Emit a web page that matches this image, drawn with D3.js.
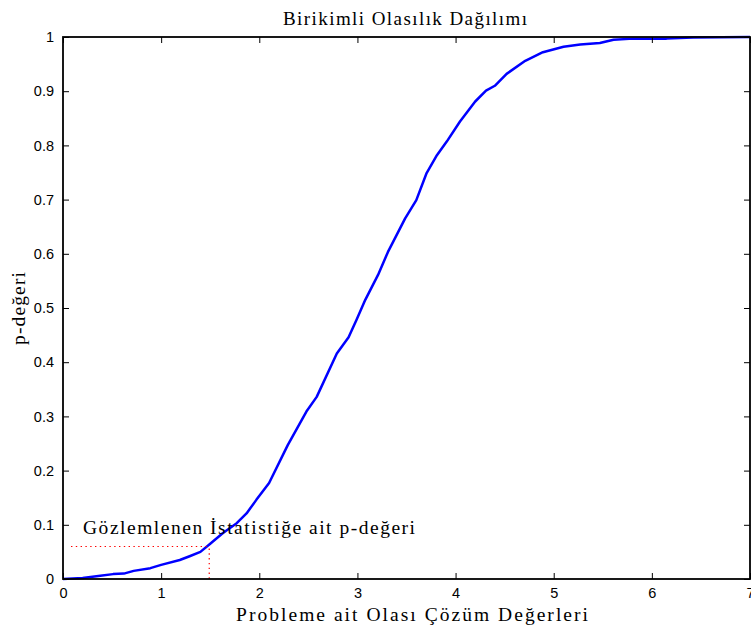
<!DOCTYPE html>
<html>
<head>
<meta charset="utf-8">
<script src="https://cdn.jsdelivr.net/npm/d3@7"></script>
<style>
  html, body { margin: 0; padding: 0; background: #fff; }
  svg { display: block; }
</style>
</head>
<body>
<svg id="chart" width="751" height="631"></svg>
<script>
// Empirical cumulative distribution of candidate solution values
const xValues = [0, 0.2, 0.38, 0.51, 0.62, 0.72, 0.89, 1.0, 1.19, 1.29, 1.40, 1.50, 1.63, 1.77, 1.87, 1.97,
  2.10, 2.29, 2.48, 2.585, 2.79, 2.91, 2.99, 3.08, 3.21, 3.31, 3.485, 3.60, 3.705, 3.81, 3.91, 4.045,
  4.20, 4.31, 4.40, 4.52, 4.71, 4.89, 5.10, 5.27, 5.47, 5.61, 5.81, 6.15, 6.42, 7.0];
const pValues = [0, 0.002, 0.006, 0.009, 0.010, 0.015, 0.020, 0.026, 0.035, 0.042, 0.050, 0.065, 0.085, 0.103, 0.121, 0.146,
  0.177, 0.247, 0.309, 0.336, 0.416, 0.446, 0.478, 0.515, 0.561, 0.603, 0.665, 0.699, 0.749, 0.782, 0.807, 0.844,
  0.881, 0.901, 0.910, 0.932, 0.956, 0.972, 0.982, 0.986, 0.989, 0.995, 0.997, 0.997, 0.999, 1.0];

// Observed statistic and its p-value
const observedX = [1.49];
const observedP = [0.06];

const xTicks = [0, 1, 2, 3, 4, 5, 6, 7];
const yTicks = [0, 0.1, 0.2, 0.3, 0.4, 0.5, 0.6, 0.7, 0.8, 0.9, 1];

const titleText = "Birikimli Olasılık Dağılımı";
const xLabelText = "Probleme ait Olası Çözüm Değerleri";
const yLabelText = "p-değeri";
const noteText = "Gözlemlenen İstatistiğe ait p-değeri";

const svg = d3.select("#chart");
const plotLeft = 63, plotRight = 750, plotTop = 37, plotBottom = 579;

const x = d3.scaleLinear().domain([0, 7]).range([plotLeft, plotRight]);
const y = d3.scaleLinear().domain([0, 1]).range([plotBottom, plotTop]);

const serif = "'Liberation Serif', 'Times New Roman', serif";
const sans = "'Liberation Sans', Arial, sans-serif";
const tickLen = 6;

// Curve
const line = d3.line().x(d => x(d[0])).y(d => y(d[1]));
svg.append("path")
  .datum(xValues.map((v, i) => [v, pValues[i]]))
  .attr("d", line)
  .attr("fill", "none")
  .attr("stroke", "#0000ff")
  .attr("stroke-width", 2.5)
  .attr("stroke-linejoin", "round");

// Dotted guides for the observed statistic
const dotted = svg.append("g")
  .attr("stroke", "#ff0000")
  .attr("stroke-width", 1.2)
  .attr("stroke-dasharray", "1.4,3.4")
  .attr("fill", "none");
dotted.append("line")
  .attr("x1", x(0) + 8).attr("x2", x(observedX[0]))
  .attr("y1", y(observedP[0])).attr("y2", y(observedP[0]));
dotted.append("line")
  .attr("x1", x(observedX[0])).attr("x2", x(observedX[0]))
  .attr("y1", y(observedP[0]) + 2).attr("y2", y(0));

// Axes: ticks point inward, mirrored on top and right
const axB = d3.axisBottom(x).tickValues(xTicks).tickSize(-tickLen).tickPadding(9).tickFormat(d3.format("d"));
const axT = d3.axisTop(x).tickValues(xTicks).tickSize(-tickLen).tickFormat("");
const axL = d3.axisLeft(y).tickValues(yTicks).tickSize(-tickLen).tickPadding(9)
  .tickFormat(d => d === 0 || d === 1 ? String(d) : d3.format(".1f")(d));
const axR = d3.axisRight(y).tickValues(yTicks).tickSize(-tickLen).tickFormat("");

function style(g) {
  g.select(".domain").remove();
  g.selectAll(".tick line").attr("stroke", "#000").attr("stroke-width", 1);
  g.selectAll(".tick text").attr("fill", "#000").style("font-family", sans).style("font-size", "14.5px");
}
svg.append("g").attr("transform", `translate(0,${plotBottom})`).call(axB).call(style);
svg.append("g").attr("transform", `translate(0,${plotTop})`).call(axT).call(style);
svg.append("g").attr("transform", `translate(${plotLeft},0)`).call(axL).call(style);
svg.append("g").attr("transform", `translate(${plotRight},0)`).call(axR).call(style);

// Frame
svg.append("rect")
  .attr("x", plotLeft).attr("y", plotTop)
  .attr("width", plotRight - plotLeft).attr("height", plotBottom - plotTop)
  .attr("fill", "none").attr("stroke", "#000").attr("stroke-width", 1.8);

// Texts (serif, spaced out like the typeset labels)
function serifText(sel, size, len) {
  return sel.style("font-family", serif).style("font-size", size + "px")
    .attr("textLength", len).attr("lengthAdjust", "spacing");
}

svg.append("text")
  .attr("x", 405).attr("y", 25)
  .attr("text-anchor", "middle")
  .call(serifText, 19, 244)
  .text(titleText);

svg.append("text")
  .attr("x", 412).attr("y", 621)
  .attr("text-anchor", "middle")
  .call(serifText, 19.5, 352)
  .text(xLabelText);

svg.append("text")
  .attr("transform", `translate(25,308.5) rotate(-90)`)
  .attr("text-anchor", "middle")
  .call(serifText, 19.5, 73)
  .text(yLabelText);

svg.append("text")
  .attr("x", 83).attr("y", 534)
  .call(serifText, 19.5, 332)
  .text(noteText);
</script>
</body>
</html>
